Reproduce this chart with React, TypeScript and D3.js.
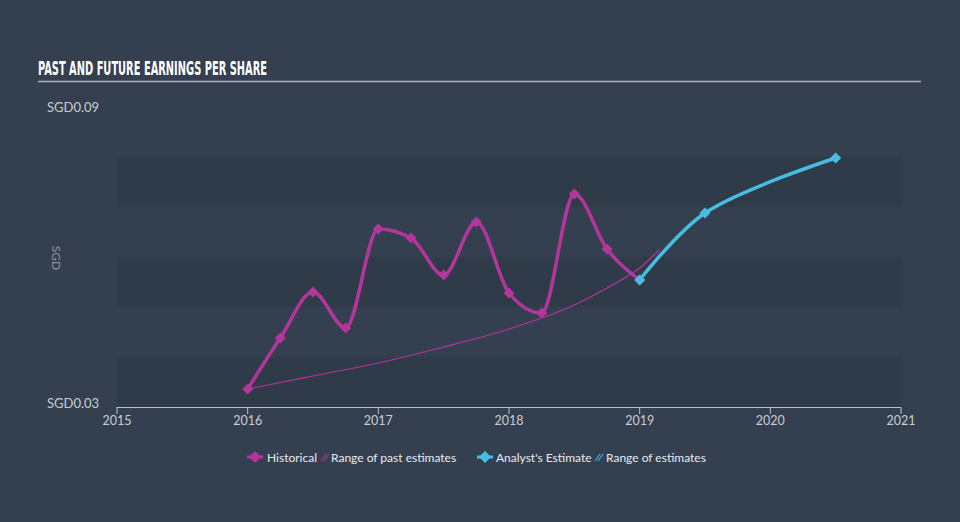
import React, { useEffect } from "react";
import * as d3 from "d3";

// quarterly EPS history (SGD)
const histYears = [2016, 2016.25, 2016.5, 2016.75, 2017, 2017.25, 2017.5, 2017.75, 2018, 2018.25, 2018.5, 2018.75, 2019];
const histValues = [0.0336, 0.0438, 0.053, 0.0458, 0.0656, 0.0638, 0.0564, 0.067, 0.0528, 0.0488, 0.0726, 0.0616, 0.0554];

// analyst estimates
const estYears = [2019, 2019.5, 2020.5];
const estValues = [0.0554, 0.0688, 0.0798];

// range of past estimates (thin line)
const rangeYears = [2016, 2016.5, 2017, 2017.5, 2018, 2018.5, 2018.75, 2019, 2019.15];
const rangeValues = [0.0336, 0.0362, 0.0388, 0.042, 0.0456, 0.0504, 0.0538, 0.0578, 0.0614];

const xTicks = [2015, 2016, 2017, 2018, 2019, 2020, 2021];
const bandStarts = [0.03, 0.05, 0.07];

const W = 960;
const H = 522;
const BG = "#344050";
const BAND = "#303b4a";
const MAGENTA = "#b4359b";
const BLUE = "#48bde3";
const TEXT = "#c9cdd3";

export default function App() {
  useEffect(() => {
    document.body.style.margin = "0";
    document.body.style.overflow = "hidden";
    document.body.style.background = BG;
  }, []);

  const x = d3.scaleLinear().domain([2015, 2021]).range([117, 901]);
  const y = d3.scaleLinear().domain([0.03, 0.09]).range([407, 107]);

  const line = d3
    .line<[number, number]>()
    .x((d) => x(d[0]))
    .y((d) => y(d[1]))
    .curve(d3.curveMonotoneX);
  // estimates look like a looser spline
  const estLine = d3
    .line<[number, number]>()
    .x((d) => x(d[0]))
    .y((d) => y(d[1]))
    .curve(d3.curveCatmullRom.alpha(0.5));

  const hist: [number, number][] = histYears.map((t, i) => [t, histValues[i]]);
  const est: [number, number][] = estYears.map((t, i) => [t, estValues[i]]);
  const range: [number, number][] = rangeYears.map((t, i) => [t, rangeValues[i]]);

  const diamond = (cx: number, cy: number, r: number) =>
    `M${cx},${cy - r}L${cx + r},${cy}L${cx},${cy + r}L${cx - r},${cy}Z`;

  return (
    <svg
      width={W}
      height={H}
      style={{ display: "block", position: "absolute", left: 0, top: 0, fontFamily: "Lato, 'DejaVu Sans', sans-serif" }}
    >
      <rect width={W} height={H} fill={BG} />

      {/* shaded bands */}
      {bandStarts.map((b) => (
        <rect
          key={b}
          x={x(2015)}
          width={x(2021) - x(2015)}
          y={y(b + 0.01)}
          height={y(b) - y(b + 0.01)}
          fill={BAND}
        />
      ))}

      {/* title */}
      <text
        x={38}
        y={75}
        fill="#ffffff"
        fontFamily="'Liberation Sans Narrow', 'DejaVu Sans Condensed', sans-serif"
        fontWeight="bold"
        fontSize={20}
        textLength={229}
        lengthAdjust="spacingAndGlyphs"
      >
        PAST AND FUTURE EARNINGS PER SHARE
      </text>
      <line x1={38} x2={921} y1={81.5} y2={81.5} stroke="#aab0b8" strokeWidth={1.5} />

      {/* y labels */}
      <text x={47} y={112} fill={TEXT} fontSize={13}>SGD0.09</text>
      <text x={47} y={408} fill={TEXT} fontSize={13}>SGD0.03</text>
      <text
        transform={`translate(52,258) rotate(90)`}
        fill={TEXT}
        fontSize={12}
        textAnchor="middle"
        opacity={0.6}
      >
        SGD
      </text>

      {/* x axis */}
      <line x1={x(2015)} x2={x(2021)} y1={407.5} y2={407.5} stroke="#b8c2cc" strokeWidth={1} />
      {xTicks.map((t) => (
        <g key={t}>
          <line x1={x(t)} x2={x(t)} y1={407} y2={414} stroke="#b8c2cc" />
          <text x={x(t)} y={425} fill={TEXT} fontSize={12.5} textAnchor="middle">
            {t}
          </text>
        </g>
      ))}

      {/* range of past estimates */}
      <path d={line(range) || ""} fill="none" stroke={MAGENTA} strokeWidth={1.2} />

      {/* historical */}
      <path d={line(hist) || ""} fill="none" stroke={MAGENTA} strokeWidth={3.5} />
      {hist.map((d, i) => (
        <path key={i} d={diamond(x(d[0]), y(d[1]), 5.5)} fill={MAGENTA} />
      ))}

      {/* analyst estimate */}
      <path d={estLine(est) || ""} fill="none" stroke={BLUE} strokeWidth={3.5} />
      {est.map((d, i) => (
        <path key={i} d={diamond(x(d[0]), y(d[1]), 5.5)} fill={BLUE} />
      ))}

      {/* legend */}
      <g fontSize={12} fill="#e8eaee">
        <path d={diamond(255, 457, 6)} fill={MAGENTA} />
        <line x1={247} x2={263} y1={457} y2={457} stroke={MAGENTA} strokeWidth={3} />
        <text x={267} y={461.5}>Historical</text>
        <g stroke={MAGENTA} strokeWidth={1.3} opacity={0.7}>
          <line x1={321} x2={326} y1={461} y2={454} />
          <line x1={324} x2={329} y1={461} y2={454} />
        </g>
        <text x={331} y={461.5}>Range of past estimates</text>

        <path d={diamond(485, 457, 6)} fill={BLUE} />
        <line x1={477} x2={493} y1={457} y2={457} stroke={BLUE} strokeWidth={3} />
        <text x={496} y={461.5}>Analyst's Estimate</text>
        <g stroke={BLUE} strokeWidth={1.3} opacity={0.7}>
          <line x1={595} x2={600} y1={461} y2={454} />
          <line x1={598} x2={603} y1={461} y2={454} />
        </g>
        <text x={606} y={461.5}>Range of estimates</text>
      </g>
    </svg>
  );
}
